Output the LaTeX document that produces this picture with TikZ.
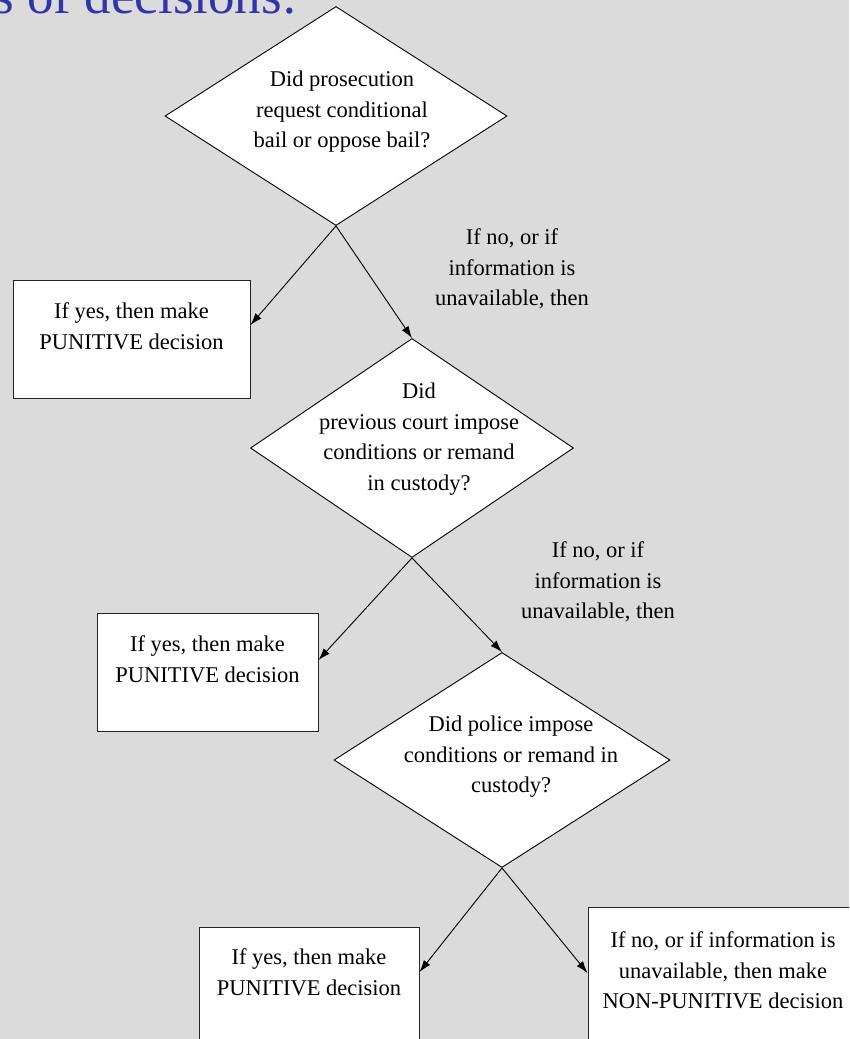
\documentclass[tikz,border=0pt]{standalone}
\usepackage{fontspec}
\setmainfont{Liberation Serif}
\usetikzlibrary{shapes.geometric,positioning,arrows.meta}

\colorlet{slide bg}{black!14}
\definecolor{heading blue}{RGB}{51,51,170}
\colorlet{box edge}{black!85}
\tikzset{
  decision/.style={diamond, fill=white, draw=black, line width=0.9pt, minimum width=#1, minimum height=219pt, inner sep=0pt},
  answer/.style={rectangle, fill=white, draw=box edge, line width=1pt, minimum width=#1, inner sep=0pt},
  boxtext/.style={align=center, inner sep=0pt, font=\fontsize{22.5}{30.5}\selectfont}
  }
\tikzstyle{link} = [draw, line width=0.9pt, -{Latex[length=12pt,width=8pt]}]
\tikzstyle{heading}=[text=heading blue, inner sep=0pt, font=\fontsize{53}{60}\selectfont]

\begin{document}
\begin{tikzpicture}[x=1pt,y=-1pt]
   \useasboundingbox (0,0) rectangle (849,1039);
   \clip (0,0) rectangle (849,1039);
   \fill[slide bg] (0,0) rectangle (849,1039);

   \node[heading, anchor=base east] (title) at (297,13) {s of decisions:};

   % the three questions
   \node[decision=342pt] (q1) at (336,116) {};
   \node[boxtext] (q1t) at (342,112) {Did prosecution\\request conditional\\bail or oppose bail?};

   \node[decision=323pt] (q2) at (412,448) {};
   \node[boxtext] (q2t) at (419,439) {Did\\previous court impose\\conditions or remand\\in custody?};

   \node[decision=336pt, minimum height=215pt] (q3) at (502,760) {};
   \node[boxtext] (q3t) at (511,757) {Did police impose\\conditions or remand in\\custody?};

   % outcomes
   \node[answer=237pt, minimum height=118pt] (a1) at (131.5,339) {};
   \node[boxtext, below=23pt of a1.north] (a1t) {If yes, then make\\PUNITIVE decision};

   \node[answer=221pt, minimum height=118pt] (a2) at (207.5,672) {};
   \node[boxtext, below=23pt of a2.north] (a2t) {If yes, then make\\PUNITIVE decision};

   \node[answer=220pt, minimum height=118pt] (a3) at (309,986) {};
   \node[boxtext, below=22pt of a3.north] (a3t) {If yes, then make\\PUNITIVE decision};

   \node[answer=270pt, minimum height=140pt] (a4) at (723,977) {};
   \node[boxtext, below=25pt of a4.north] (a4t) {If no, or if information is\\unavailable, then make\\NON-PUNITIVE decision};

   % "no" notes
   \node[boxtext] (n1) at (512,269) {If no, or if\\information is\\unavailable, then};
   \node[boxtext] (n2) at (598,582) {If no, or if\\information is\\unavailable, then};

   \path[link] (q1.south) -- ([yshift=14pt]a1.east);
   \path[link] (q1.south) -- (q2.north);
   \path[link] (q2.south) -- ([yshift=12pt]a2.east);
   \path[link] (q2.south) -- (q3.north);
   \path[link] (q3.south) -- ([yshift=14pt]a3.east);
   \path[link] (q3.south) -- ([yshift=4pt]a4.west);
\end{tikzpicture}
\end{document}
